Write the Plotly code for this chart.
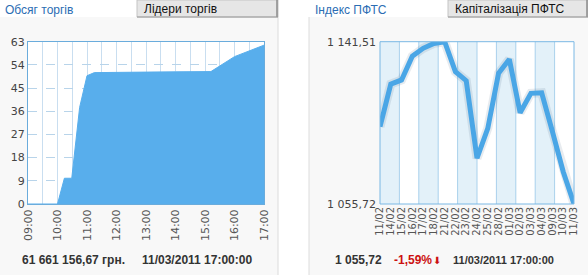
import plotly.graph_objects as go

W, H = 588, 275

# ---- data: left panel (trading volume, mln UAH) ----
vol_times = ["09:00", "10:00", "10:14", "10:29", "10:45", "11:00", "11:15", "12:00",
             "13:00", "14:00", "15:00", "15:12", "16:00", "17:00"]
vol_values = [0, 0, 10, 10, 37.5, 49.8, 51.0, 51.0, 51.2, 51.3, 51.3, 51.4, 57.2, 61.66]
vol_ytick_vals = [0, 9, 18, 27, 36, 45, 54, 63]
vol_xtick_labels = ["09:00", "10:00", "11:00", "12:00", "13:00", "14:00", "15:00", "16:00", "17:00"]

# ---- data: right panel (PFTS index) ----
idx_dates = ["11/02", "14/02", "15/02", "16/02", "17/02", "18/02", "21/02", "22/02", "23/02",
             "24/02", "25/02", "28/02", "01/03", "02/03", "03/03", "04/03", "09/03", "10/03", "11/03"]
idx_values = [1096.6, 1119.1, 1121.3, 1133.9, 1138.0, 1140.6, 1141.51, 1125.6, 1120.9,
              1079.9, 1095.7, 1124.8, 1132.2, 1104.0, 1114.2, 1114.5, 1094.0, 1072.78, 1055.72]
idx_min, idx_max = 1055.72, 1141.51
idx_tick_labels = ["1 055,72", "1 141,51"]


def hours(t):
    h, m = t.split(":")
    return int(h) + int(m) / 60.0


vol_x = [hours(t) for t in vol_times]
vol_tick_x = [hours(t) for t in vol_xtick_labels]


def px(x):
    return x / W


def py(y):
    return 1 - y / H


fig = go.Figure()

fig.add_trace(go.Scatter(
    x=vol_x, y=vol_values, mode="lines", fill="tozeroy",
    line=dict(color="#58aeec", width=1), fillcolor="#58aeec",
    xaxis="x", yaxis="y", hoverinfo="skip", showlegend=False))

# soft shadow under the index line
fig.add_trace(go.Scatter(
    x=idx_dates, y=idx_values, mode="lines",
    line=dict(color="rgba(60,90,120,0.12)", width=9),
    xaxis="x2", yaxis="y2", hoverinfo="skip", showlegend=False))
fig.add_trace(go.Scatter(
    x=idx_dates, y=idx_values, mode="lines",
    line=dict(color="#4aa6e6", width=5),
    xaxis="x2", yaxis="y2", hoverinfo="skip", showlegend=False))

ydom = [py(204), py(41.7)]
axis_font = dict(family="DejaVu Sans, Verdana, sans-serif", size=11, color="#444")

shapes = []
# panel backgrounds
shapes.append(dict(type="rect", xref="paper", yref="paper", x0=px(0), x1=px(278), y0=py(275), y1=py(17),
                   fillcolor="#f8f8f8", line=dict(width=0), layer="below"))
shapes.append(dict(type="line", xref="paper", yref="paper", x0=px(278), x1=px(278), y0=py(275), y1=py(17),
                   line=dict(color="#dcdcdc", width=1), layer="below"))
shapes.append(dict(type="rect", xref="paper", yref="paper", x0=px(309), x1=px(588), y0=py(275), y1=py(17),
                   fillcolor="#f8f8f8", line=dict(width=0), layer="below"))
shapes.append(dict(type="line", xref="paper", yref="paper", x0=px(309), x1=px(309), y0=py(275), y1=py(17),
                   line=dict(color="#dcdcdc", width=1), layer="below"))
# inactive tabs
for x0, x1 in [(137, 278), (448, 588)]:
    shapes.append(dict(type="rect", xref="paper", yref="paper", x0=px(x0), x1=px(x1), y0=py(17), y1=py(0),
                       fillcolor="#e6e6e6", line=dict(color="#c4c4c4", width=1), layer="below"))
    shapes.append(dict(type="line", xref="paper", yref="paper", x0=px(x1 - 1), x1=px(x1 - 1), y0=py(17), y1=py(0),
                       line=dict(color="#8a8a8a", width=1.5), layer="below"))
    shapes.append(dict(type="line", xref="paper", yref="paper", x0=px(x0), x1=px(x1), y0=py(17), y1=py(17),
                       line=dict(color="#9a9a9a", width=1), layer="below"))
# plot-area white backgrounds
shapes.append(dict(type="rect", xref="x domain", yref="y domain", x0=0, x1=1, y0=0, y1=1,
                   fillcolor="white", line=dict(width=0), layer="below"))
shapes.append(dict(type="rect", xref="x2 domain", yref="y2 domain", x0=0, x1=1, y0=0, y1=1,
                   fillcolor="white", line=dict(width=0), layer="below"))
# alternating bands on the index chart
n_bands = 10
for k in range(n_bands):
    if k % 2 == 0:
        shapes.append(dict(type="rect", xref="x2 domain", yref="y2 domain", x0=k / n_bands, x1=(k + 1) / n_bands,
                           y0=0, y1=1, fillcolor="#e3f1f9", line=dict(width=0), layer="below"))
    if k > 0:
        shapes.append(dict(type="line", xref="x2 domain", yref="y2 domain", x0=k / n_bands, x1=k / n_bands,
                           y0=0, y1=1, line=dict(color="#a9d1ec", width=1), layer="below"))
shapes.append(dict(type="rect", xref="x2 domain", yref="y2 domain", x0=0, x1=1, y0=0, y1=1,
                   line=dict(color="#7ab8e4", width=1)))

tab_font = dict(family="Liberation Sans, Arial, sans-serif", size=12)
bold_font = dict(family="Liberation Sans, Arial, sans-serif", size=12, color="#333")
annotations = [
    dict(text="Обсяг торгів", x=px(3), y=py(10), xanchor="left", yanchor="middle",
         font=dict(tab_font, color="#2b6db3")),
    dict(text="Лідери торгів", x=px(142), y=py(9), xanchor="left", yanchor="middle",
         font=dict(tab_font, color="#111")),
    dict(text="Індекс ПФТС", x=px(313), y=py(10), xanchor="left", yanchor="middle",
         font=dict(tab_font, color="#2b6db3")),
    dict(text="Капіталізація ПФТС", x=px(453), y=py(9), xanchor="left", yanchor="middle",
         font=dict(tab_font, color="#111")),
    dict(text="<b>61 661 156,67 грн.</b>", x=px(20), y=py(260), xanchor="left", yanchor="middle", font=bold_font),
    dict(text="<b>11/03/2011 17:00:00</b>", x=px(140), y=py(260), xanchor="left", yanchor="middle", font=bold_font),
    dict(text="<b>1 055,72</b>", x=px(333), y=py(260), xanchor="left", yanchor="middle", font=bold_font),
    dict(text="<b>-1,59%</b>", x=px(392), y=py(260), xanchor="left", yanchor="middle",
         font=dict(bold_font, color="#cc1111")),
    dict(text="⬇", x=px(431), y=py(260), xanchor="left", yanchor="middle",
         font=dict(family="DejaVu Sans, sans-serif", size=10, color="#cc1111")),
    dict(text="<b>11/03/2011 17:00:00</b>", x=px(451), y=py(260), xanchor="left", yanchor="middle",
         font=dict(bold_font, size=11)),
]
for a in annotations:
    a.update(xref="paper", yref="paper", showarrow=False)

fig.update_layout(
    width=W, height=H, margin=dict(l=0, r=0, t=0, b=0, autoexpand=False),
    paper_bgcolor="white", plot_bgcolor="rgba(0,0,0,0)",
    showlegend=False,
    xaxis=dict(domain=[px(28), px(264)], range=[9, 17], tickvals=vol_tick_x, ticktext=vol_xtick_labels,
               tickangle=-90, showgrid=True, gridcolor="#c9def0", gridwidth=1,
               minor=dict(dtick=0.5, tick0=9, showgrid=True, gridcolor="#c9def0", gridwidth=1),
               showline=True, linecolor="#6aacdc", mirror=True, ticks="", zeroline=False,
               tickfont=dict(axis_font, color="#555"), fixedrange=True, automargin=False),
    yaxis=dict(domain=ydom, range=[0, 63], tickvals=vol_ytick_vals, showgrid=True, gridcolor="#b8d4ea",
               griddash="dash", gridwidth=1, showline=True, linecolor="#6aacdc", mirror=True,
               ticks="", zeroline=False, tickfont=axis_font, fixedrange=True, automargin=False),
    xaxis2=dict(domain=[px(380), px(574)], type="category", range=[0, len(idx_dates) - 1],
                tickmode="array", tickvals=idx_dates, ticktext=idx_dates,
                tickangle=-90, showgrid=False, showline=False, ticks="", zeroline=False,
                tickfont=dict(family="DejaVu Sans, Verdana, sans-serif", size=10, color="#555"),
                anchor="y2", fixedrange=True, automargin=False),
    yaxis2=dict(domain=ydom, range=[idx_min, idx_max], tickvals=[idx_min, idx_max], ticktext=idx_tick_labels,
                showgrid=False, showline=False, ticks="", zeroline=False, anchor="x2",
                tickfont=dict(axis_font, size=11), ticklabelstandoff=3, fixedrange=True, automargin=False),
    shapes=shapes, annotations=annotations,
)

fig.write_html("out.html", config={"displayModeBar": False})
